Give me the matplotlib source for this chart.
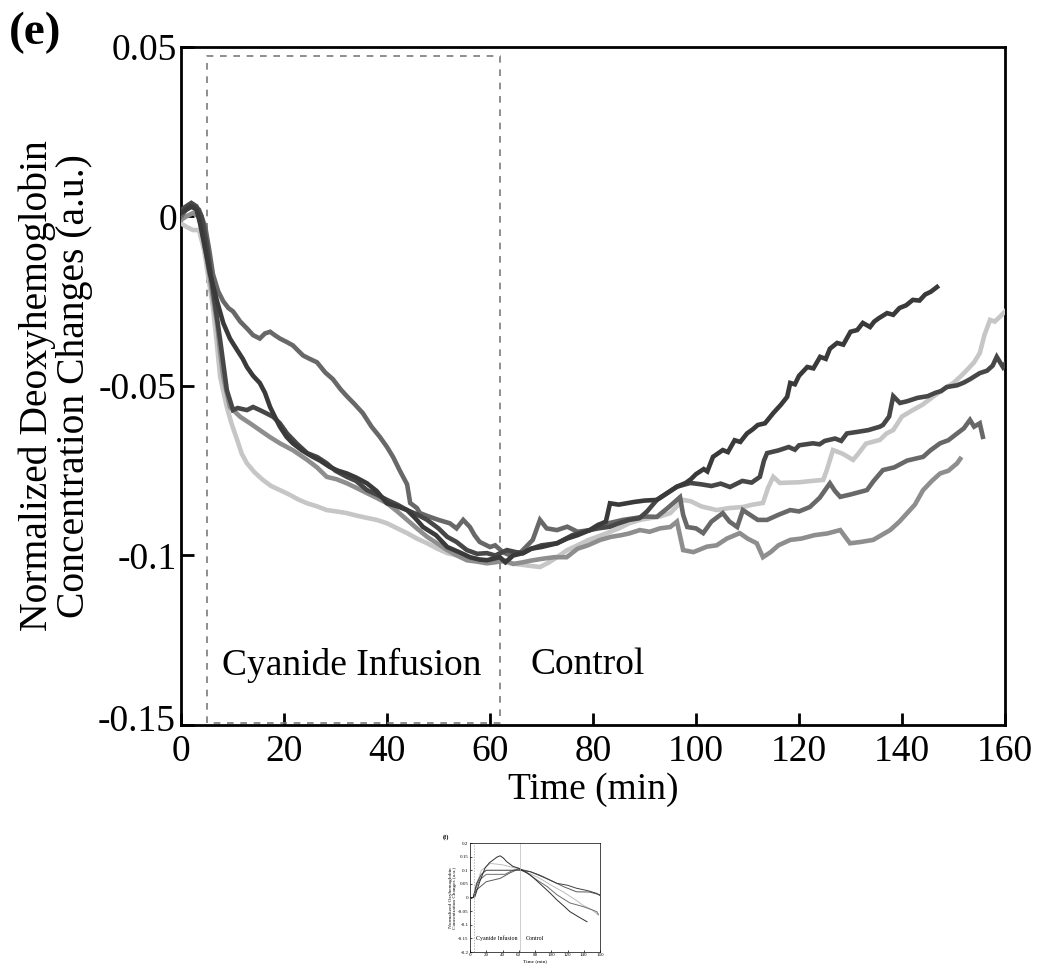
import matplotlib
matplotlib.use("Agg")
import matplotlib.pyplot as plt
from matplotlib.transforms import ScaledTranslation

plt.rcParams['font.family'] = ['Liberation Serif', 'DejaVu Serif']

# ---------------- data (main panel e) ----------------
phase_labels = ["Cyanide Infusion", "Control"]
infusion_start = 5
infusion_end = 62
xticks = [0, 20, 40, 60, 80, 100, 120, 140, 160]
yticks = [0.05, 0, -0.05, -0.1, -0.15]
ytick_labels = ["0.05", "0", "-0.05", "-0.1", "-0.15"]

darkest = [(0, 0.001), (1, 0.002), (2, 0.003), (3, 0.002), (3.7, -0.002), (4.5, -0.008), (5.6, -0.0167),
           (7, -0.025), (8.2, -0.0314), (9.5, -0.036), (10.9, -0.0394), (12, -0.042), (12.8, -0.0444),
           (14, -0.047), (15.3, -0.0491), (16.3, -0.052), (17.3, -0.0562), (18.2, -0.059), (19.2, -0.062),
           (20.5, -0.065), (21.7, -0.0669), (23.5, -0.069), (25.6, -0.0709), (27, -0.072), (28.9, -0.0739),
           (30.5, -0.075), (32.2, -0.0758), (34, -0.077), (36.1, -0.0787), (38, -0.081), (40, -0.0846),
           (42, -0.0855), (43.9, -0.0866), (45.5, -0.089), (47, -0.0916), (49.5, -0.094), (51.7, -0.0975),
           (54, -0.099), (56.1, -0.1005), (58, -0.1012), (59.4, -0.1014), (61.9, -0.1005), (63, -0.102),
           (64.5, -0.100), (66.4, -0.0993), (68, -0.098), (70, -0.0975), (73, -0.0964), (75, -0.095),
           (77, -0.094), (79.4, -0.0925), (81, -0.091), (82.5, -0.090), (83.3, -0.0846), (85, -0.085),
           (88, -0.0842), (90, -0.0838), (92.4, -0.0836), (94, -0.082), (96.3, -0.0797), (98, -0.0786),
           (99, -0.0775), (100, -0.076), (101.5, -0.0745), (102.2, -0.0752), (103.3, -0.0709),
           (105.2, -0.0689), (106.2, -0.0695), (107.5, -0.066), (108.6, -0.0665), (109.9, -0.064),
           (111, -0.0628), (112, -0.0615), (113.4, -0.061), (115, -0.058), (116.5, -0.0555),
           (117.7, -0.0532), (118.3, -0.0491), (119.2, -0.0495), (120, -0.047), (121.6, -0.0444),
           (122.8, -0.0448), (124.1, -0.0414), (125.2, -0.042), (126, -0.039), (127.4, -0.0373),
           (128.6, -0.0378), (130, -0.034), (131.3, -0.0335), (132.4, -0.0314), (133.8, -0.0326),
           (134.6, -0.031), (135.5, -0.030), (137.1, -0.0285), (138.3, -0.029), (139.5, -0.027),
           (140.8, -0.0262), (142.1, -0.0246), (143.4, -0.0248), (144.5, -0.023), (145.6, -0.0222),
           (146.8, -0.0208)]

dark = [(0, 0.002), (1, 0.003), (2, 0.004), (3, 0.003), (4, 0.0), (5, -0.008), (6.2, -0.0217),
        (7.6, -0.0364), (8.9, -0.0512), (10.1, -0.0571), (11, -0.0565), (12.8, -0.0571), (14, -0.0562),
        (15.3, -0.0571), (16.5, -0.058), (17.9, -0.0591), (19.2, -0.061), (20.6, -0.064), (22.5, -0.067),
        (24.5, -0.0698), (26.5, -0.071), (28.3, -0.0728), (30, -0.075), (32.2, -0.0768), (34, -0.078),
        (36.1, -0.0807), (38, -0.082), (40, -0.0836), (42, -0.085), (43.9, -0.0866), (46, -0.088),
        (47.8, -0.0895), (50, -0.092), (51.7, -0.0945), (53.5, -0.096), (55.5, -0.0984), (57.5, -0.0995),
        (59.4, -0.0993), (61, -0.100), (63.3, -0.0984), (65, -0.099), (66.4, -0.0993), (68, -0.098),
        (70, -0.097), (73, -0.0964), (76, -0.094), (79.4, -0.0925), (81, -0.092), (83.3, -0.0915),
        (85, -0.0905), (87, -0.0895), (89, -0.089), (90.5, -0.087), (92.4, -0.0836), (94, -0.082),
        (96.3, -0.0797), (98.9, -0.0786), (101, -0.079), (103, -0.0795), (104.8, -0.0788),
        (106.6, -0.0798), (109, -0.078), (110.8, -0.0785), (112.4, -0.0768), (113.2, -0.072),
        (113.8, -0.0698), (116, -0.069), (118, -0.068), (119.2, -0.0688), (120, -0.0675),
        (122.7, -0.0669), (124, -0.0672), (125, -0.0662), (127, -0.0655), (128.2, -0.0662),
        (129.3, -0.064), (131.5, -0.0635), (133.5, -0.063), (135.7, -0.062), (136.3, -0.0615),
        (137.5, -0.059), (138.3, -0.053), (139.6, -0.055), (141, -0.0545), (143, -0.0535),
        (145, -0.053), (146.5, -0.052), (147.6, -0.0515), (148.7, -0.0503), (150.7, -0.0498),
        (152, -0.049), (153.2, -0.048), (155.1, -0.0462), (156.5, -0.0455), (157.6, -0.044),
        (158.4, -0.0414), (159.6, -0.0444), (160, -0.0435)]

medium = [(0, 0.0), (1, 0.002), (2.3, 0.003), (3.5, 0.002), (4.7, -0.003), (5.5, -0.01), (6.2, -0.017),
          (7.2, -0.022), (8.2, -0.025), (9.2, -0.027), (10.1, -0.028), (11.5, -0.031), (12.8, -0.033),
          (14, -0.035), (15.3, -0.036), (16.3, -0.0345), (17.3, -0.034), (18.2, -0.035), (19.2, -0.036),
          (20.5, -0.037), (21.7, -0.038), (22.7, -0.0395), (23.7, -0.041), (25, -0.042), (26.4, -0.043),
          (28, -0.046), (29.5, -0.048), (31, -0.051), (32.2, -0.053), (33.8, -0.0555), (35.3, -0.058),
          (37, -0.062), (38.6, -0.065), (40, -0.068), (41.2, -0.071), (42.5, -0.075), (43.9, -0.079),
          (44.5, -0.0845), (45.8, -0.086), (46.4, -0.0875), (48.3, -0.0886), (50, -0.0895),
          (52.2, -0.0905), (53.5, -0.092), (54.8, -0.0895), (56.1, -0.0916), (57, -0.094), (58, -0.096),
          (60, -0.0975), (61, -0.097), (62.5, -0.099), (64, -0.100), (66, -0.099), (68.3, -0.0954),
          (69.7, -0.0895), (71, -0.092), (73, -0.0925), (75, -0.0915), (77, -0.093), (79.4, -0.0925),
          (81, -0.091), (83, -0.0905), (85.8, -0.0895), (88, -0.089), (90, -0.0885), (92.4, -0.0886),
          (94.5, -0.086), (96.9, -0.0828), (97.5, -0.088), (98.3, -0.0916), (100, -0.092),
          (101.4, -0.0934), (103, -0.090), (105.2, -0.0875), (106.5, -0.090), (108, -0.0916),
          (109.1, -0.0866), (110.5, -0.088), (112, -0.0895), (113.8, -0.0895), (116, -0.088),
          (118.3, -0.0866), (120, -0.087), (122.1, -0.0857), (124, -0.083), (126, -0.0787),
          (127, -0.081), (128, -0.0827), (130, -0.082), (133.2, -0.0807), (134.5, -0.078),
          (136.3, -0.0748), (138.5, -0.074), (141, -0.072), (144.1, -0.0709), (145.5, -0.069),
          (147.4, -0.0669), (149, -0.066), (150.7, -0.064), (152, -0.0625), (153.2, -0.060),
          (154, -0.062), (155.1, -0.061), (155.7, -0.065)]

medium_light = [(0, -0.001), (1, 0.0), (2.3, 0.001), (3.5, 0.0), (5, -0.012), (6, -0.022), (7, -0.0314),
                (7.6, -0.040), (8.2, -0.0473), (9.5, -0.0562), (11.5, -0.0591), (13.4, -0.061),
                (15.3, -0.063), (17.2, -0.065), (19.2, -0.0669), (21.8, -0.069), (24.5, -0.0718),
                (26.4, -0.074), (28.3, -0.0768), (30.2, -0.0775), (32.2, -0.0787), (34, -0.080),
                (36.1, -0.0816), (38, -0.083), (40, -0.0846), (42, -0.087), (43.9, -0.0895),
                (45.8, -0.092), (47.8, -0.0945), (49.8, -0.0965), (51.7, -0.0984), (53.6, -0.100),
                (55.5, -0.1014), (57.5, -0.1018), (59.4, -0.1023), (61, -0.102), (63, -0.1015),
                (64.5, -0.1025), (66.4, -0.102), (68, -0.1015), (70, -0.101), (72.5, -0.1005),
                (74.9, -0.1005), (77, -0.098), (79, -0.097), (81.4, -0.0954), (83.5, -0.0945),
                (85.5, -0.094), (87, -0.0935), (89.1, -0.0925), (91, -0.093), (93, -0.092), (95, -0.0916),
                (96.3, -0.090), (97.5, -0.0984), (99.5, -0.099), (102.1, -0.0974), (104, -0.097),
                (106, -0.095), (108.5, -0.0934), (110, -0.095), (111.8, -0.0964), (113, -0.1005),
                (114.5, -0.099), (116, -0.097), (118.3, -0.0954), (120.5, -0.095), (123, -0.094),
                (125.5, -0.0935), (128, -0.0925), (129.9, -0.0964), (132, -0.096), (134.4, -0.0954),
                (136, -0.094), (137.7, -0.0925), (139.5, -0.090), (141, -0.0875), (142.5, -0.085),
                (144.1, -0.0807), (145.8, -0.078), (147.4, -0.0758), (149, -0.075), (150.7, -0.0728),
                (151.3, -0.0715)]

light = [(0, -0.002), (1, -0.003), (2.3, -0.004), (3.5, -0.004), (4.5, -0.010), (5.3, -0.018),
         (6.2, -0.0267), (7, -0.038), (7.6, -0.0473), (8.9, -0.0562), (9.8, -0.061), (10.9, -0.0659),
         (11.8, -0.070), (12.8, -0.0728), (14.3, -0.0755), (15.9, -0.0777), (17.5, -0.0795),
         (19.2, -0.0807), (21, -0.082), (22.8, -0.0835), (24.5, -0.0846), (26.4, -0.0855),
         (28.3, -0.0866), (30.2, -0.087), (32.2, -0.0875), (34, -0.0882), (36.1, -0.0889), (38, -0.0895),
         (40, -0.0905), (42, -0.092), (43.9, -0.0934), (45.8, -0.095), (47.8, -0.0964), (49.8, -0.098),
         (51.7, -0.0993), (53.6, -0.100), (55.5, -0.1005), (57.5, -0.101), (59.4, -0.1014),
         (61, -0.101), (63, -0.102), (65, -0.1025), (67.5, -0.103), (69.7, -0.1034), (71.5, -0.102),
         (73, -0.1005), (75, -0.0984), (77, -0.097), (79, -0.0955), (80.8, -0.0945), (82.7, -0.0934),
         (85, -0.092), (87, -0.0905), (89.1, -0.0895), (91, -0.089), (93, -0.0885), (95, -0.0875),
         (97.5, -0.0836), (99, -0.084), (101, -0.0855), (104, -0.0866), (106.5, -0.086),
         (109.1, -0.0857), (111, -0.085), (113, -0.0845), (114, -0.080), (115, -0.0768),
         (116.3, -0.0786), (118, -0.0785), (120, -0.0784), (122.5, -0.078), (124.7, -0.0777),
         (125.4, -0.0748), (126.6, -0.0689), (128.5, -0.070), (130.5, -0.0718), (131.5, -0.070),
         (133, -0.067), (135.7, -0.0659), (137, -0.064), (138.3, -0.063), (140, -0.059),
         (142.1, -0.0571), (144, -0.0555), (146, -0.0532), (148, -0.051), (150, -0.0491),
         (151.5, -0.047), (152.6, -0.0453), (154, -0.043), (155.1, -0.0403), (156, -0.035),
         (157.1, -0.0305), (158, -0.031), (159, -0.0296), (160, -0.028)]

series = [light, medium_light, medium, dark, darkest]
colors = ["#c6c6c6", "#8e8e8e", "#686868", "#474747", "#3a3a3a"]

# ---------------- data (inset panel f) ----------------
f_peak = [(0, 0.0), (3, 0.0), (6, 0.003), (12, 0.058), (18.5, 0.108), (24, 0.128), (28.7, 0.138),
          (33, 0.148), (37, 0.153), (41, 0.145), (45, 0.132), (53, 0.114), (59.5, 0.108), (66, 0.098),
          (74, 0.083), (82, 0.062), (90, 0.040), (98, 0.018), (107, -0.009), (115, -0.030),
          (123, -0.052), (133, -0.070), (144, -0.089)]
f_light = [(0, 0.0), (4, 0.0), (8, 0.05), (14, 0.10), (25, 0.125), (40, 0.12), (60, 0.105),
           (72, 0.09), (86, 0.07), (100, 0.045), (115, 0.02), (128, -0.005), (140, -0.030),
           (150, -0.045), (156, -0.060), (158, -0.065)]
f_dark = [(0, 0.0), (4, 0.0), (8, 0.05), (14, 0.085), (20, 0.10), (40, 0.10), (60, 0.10), (74, 0.095),
          (90, 0.075), (107, 0.052), (120, 0.045), (131, 0.034), (145, 0.025), (156, 0.015), (160, 0.007)]
f_medium = [(0, 0.0), (4, 0.0), (8, 0.04), (12, 0.065), (20, 0.085), (33, 0.085), (43, 0.085),
            (53, 0.10), (60, 0.105), (70, 0.09), (82, 0.065), (95, 0.04), (107, 0.01), (123, -0.02),
            (140, -0.034), (150, -0.045), (156, -0.052), (158, -0.062)]
f_slow = [(0, 0.0), (4, 0.0), (8, 0.028), (20, 0.058), (37, 0.07), (49, 0.09), (60, 0.105),
          (74, 0.095), (86, 0.082), (98, 0.065), (115, 0.04), (131, 0.021), (147, 0.02), (160, 0.01)]
f_series = [f_light, f_slow, f_medium, f_dark, f_peak]
f_xticks = [0, 20, 40, 60, 80, 100, 120, 140, 160]
f_yticks = [0.2, 0.15, 0.1, 0.05, 0, -0.05, -0.1, -0.15, -0.2]
f_ytick_labels = ["0.2", "0.15", "0.1", "0.05", "0", "-0.05", "-0.1", "-0.15", "-0.2"]

# ---------------- figure ----------------
W, H = 1041, 971
fig = plt.figure(figsize=(W / 100, H / 100), dpi=100)


def px_axes(x0, y0, x1, y1):
    return fig.add_axes([x0 / W, 1 - y1 / H, (x1 - x0) / W, (y1 - y0) / H])


ax = px_axes(181, 47, 1005, 725)
for s, c in zip(series, colors):
    xs = [p[0] for p in s]
    ys = [p[1] for p in s]
    ax.plot(xs, ys, color=c, lw=3.3, solid_joinstyle='miter', zorder=3)

rect_top, rect_bot = 0.0473, -0.1494
ax.plot([infusion_start, infusion_start, infusion_end, infusion_end, infusion_start],
        [rect_bot, rect_top, rect_top, rect_bot, rect_bot],
        color="#7a7a7a", lw=1.2, ls=(0, (4, 4)), zorder=2)

ax.text(7.9, -0.1323, phase_labels[0], fontsize=27, va='center', ha='left')
ax.text(67.8, -0.1323, phase_labels[1], fontsize=27, va='center', ha='left')

ax.set_xlim(0, 160)
ax.set_ylim(-0.15, 0.05)
ax.set_xticks(xticks)
ax.set_xticklabels([str(t) for t in xticks])
ax.set_yticks(yticks)
ax.set_yticklabels(ytick_labels, va='center_baseline')
ax.tick_params(direction='in', length=9, width=2, labelsize=27, pad=3)
ax.tick_params(axis='x', pad=7)
for sp in ax.spines.values():
    sp.set_linewidth(2)
ax.set_xlabel("Time (min)", fontsize=27, labelpad=2)
ax.set_ylabel("Normalized Deoxyhemoglobin\nConcentration Changes (a.u.)", fontsize=28.5,
              labelpad=3, linespacing=1.0)

# nudge the lowest y tick label upward so it clears the x-axis "0"
bottom_label = ax.get_yticklabels()[-1]
bottom_label.set_transform(bottom_label.get_transform() +
                           ScaledTranslation(-1 / 72, 5 / 72, fig.dpi_scale_trans))

fig.text(9 / W, 1 - 12 / H, "(e)", fontsize=34, fontweight='bold', va='top', ha='left')

# ---------------- inset (f) ----------------
axf = px_axes(470, 843, 600, 952)
f_colors = ["#bdbdbd", "#5a5a5a", "#6e6e6e", "#404040", "#2e2e2e"]
for s, c in zip(f_series, f_colors):
    axf.plot([p[0] for p in s], [p[1] for p in s], color=c, lw=0.7)
axf.axvline(infusion_start, color="#999999", lw=0.5, ls=(0, (2, 2)))
axf.axvline(infusion_end, color="#bbbbbb", lw=0.5)
axf.text(8, -0.15, phase_labels[0], fontsize=4.2, va='center', ha='left')
axf.text(68, -0.15, phase_labels[1], fontsize=4.2, va='center', ha='left')
axf.set_xlim(0, 160)
axf.set_ylim(-0.2, 0.2)
axf.set_xticks(f_xticks)
axf.set_yticks(f_yticks)
axf.set_yticklabels(f_ytick_labels)
axf.tick_params(direction='in', length=1.5, width=0.5, labelsize=3.6, pad=1)
for sp in axf.spines.values():
    sp.set_linewidth(0.5)
axf.set_xlabel("Time (min)", fontsize=3.8, labelpad=1)
axf.set_ylabel("Normalized Oxyhemoglobin\nConcentration Changes (a.u.)", fontsize=3.8,
               labelpad=1, linespacing=1.0)
fig.text(443 / W, 1 - 834 / H, "(f)", fontsize=4.5, fontweight='bold', va='top', ha='left')

fig.savefig("out.png", dpi=100)
